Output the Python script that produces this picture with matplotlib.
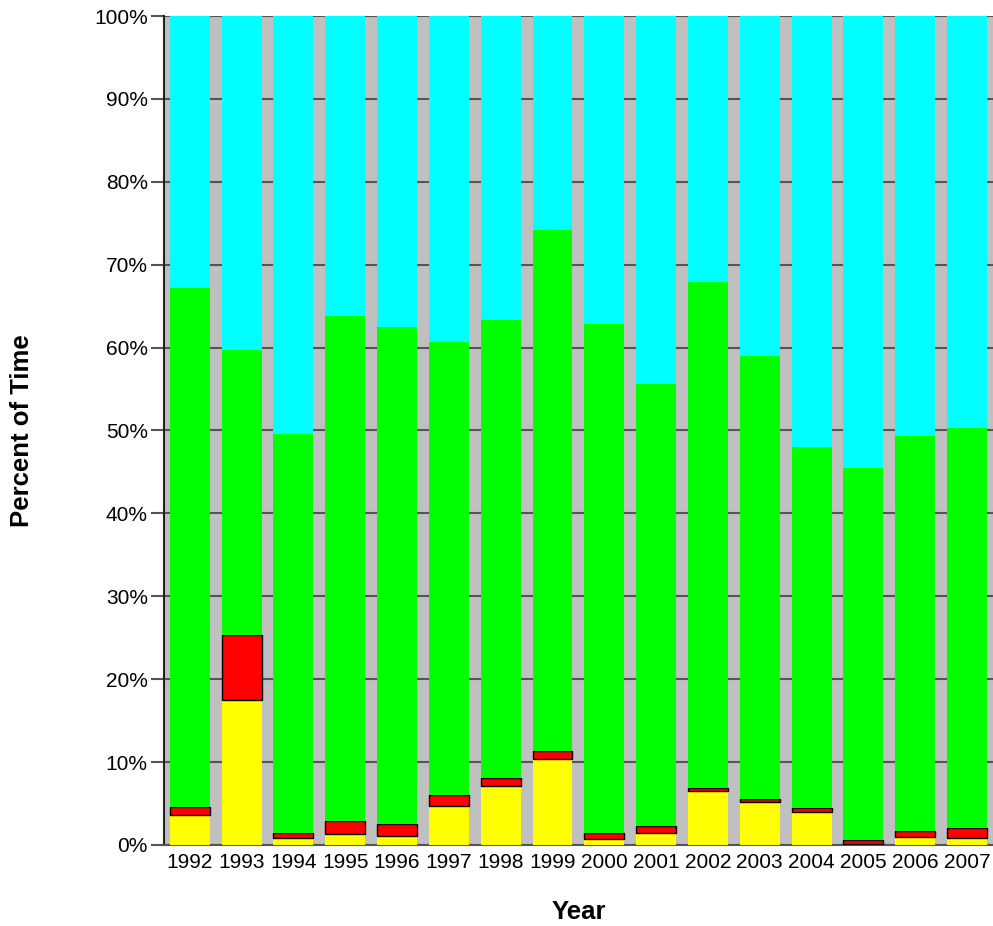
import numpy as np
import matplotlib.pyplot as plt

plt.rcParams['font.family'] = ['Liberation Sans', 'DejaVu Sans']

# Data: percent of time per year, stacked bottom to top
years = ["1992", "1993", "1994", "1995", "1996", "1997", "1998", "1999",
         "2000", "2001", "2002", "2003", "2004", "2005", "2006", "2007"]
yellow = [3.6, 17.5, 0.8, 1.3, 1.1, 4.7, 7.1, 10.4,
          0.7, 1.5, 6.5, 5.2, 4.0, 0.1, 1.0, 0.8]
red = [1.0, 7.8, 0.7, 1.6, 1.4, 1.3, 1.0, 0.9,
       0.7, 0.8, 0.4, 0.3, 0.45, 0.55, 0.65, 1.2]
green = [62.6, 34.4, 48.1, 60.9, 60.0, 54.7, 55.2, 62.9,
         61.4, 53.3, 61.0, 53.5, 43.55, 44.85, 47.65, 48.3]
cyan = [32.8, 40.3, 50.4, 36.2, 37.5, 39.3, 36.7, 25.8,
        37.2, 44.4, 32.1, 41.0, 52.0, 54.5, 50.7, 49.7]
yticks = [0, 10, 20, 30, 40, 50, 60, 70, 80, 90, 100]

fig = plt.figure(figsize=(9.93, 9.26), dpi=100)
ax = fig.add_axes([0.165, 0.0875, 0.835, 0.8952])
ax.set_facecolor("#c0c0c0")

x = np.arange(len(years))
w = 0.77
b1 = np.array(yellow)
b2 = b1 + np.array(red)
b3 = b2 + np.array(green)
ax.bar(x, yellow, w, color="#ffff00", zorder=3)
ax.bar(x, red, w, bottom=b1, color="#ff0000", edgecolor="black", linewidth=1, zorder=3)
ax.bar(x, green, w, bottom=b2, color="#00ff00", zorder=3)
ax.bar(x, cyan, w, bottom=b3, color="#00ffff", zorder=3)

ax.set_xlim(-0.5, len(years) - 0.5)
ax.set_ylim(0, 100)
ax.set_yticks(yticks)
ax.set_yticklabels([f"{t}%" for t in yticks])
ax.set_xticks(x)
ax.set_xticklabels(years)
ax.yaxis.grid(True, color="#555555", linewidth=1.5, zorder=1)
ax.set_axisbelow(True)

ax.tick_params(axis="y", length=9.5, width=1.5, color="#555555", labelsize=15, pad=2)
ax.tick_params(axis="x", length=0, labelsize=15, pad=6)
for s in ["top", "right"]:
    ax.spines[s].set_visible(False)
ax.spines["left"].set_color("#222222")
ax.spines["left"].set_linewidth(1.5)
ax.spines["bottom"].set_color("#555555")
ax.spines["bottom"].set_linewidth(1.5)

ax.set_xlabel("Year", fontsize=18.5, fontweight="bold", labelpad=20)
ax.set_ylabel("Percent of Time", fontsize=18.5, fontweight="bold", labelpad=43)

fig.savefig("out.png", dpi=100)
